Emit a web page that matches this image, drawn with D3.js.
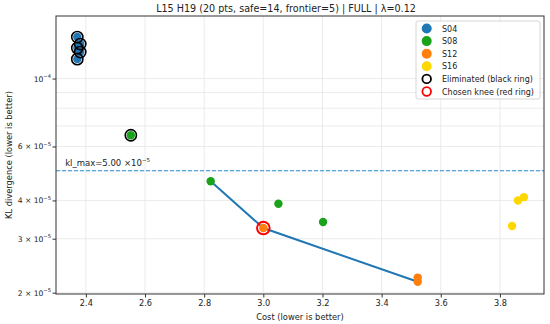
<!DOCTYPE html>
<html>
<head>
<meta charset="utf-8">
<script src="https://cdn.jsdelivr.net/npm/d3@7"></script>
<style>
  body { margin: 0; background: #fff; }
  svg { font-family: "DejaVu Sans", sans-serif; }
</style>
</head>
<body>
<svg id="chart" width="550" height="324"></svg>
<script>
(function() {
  // series names and colours
  var seriesNames = ['S04', 'S08', 'S12', 'S16'];
  var seriesColors = ['#1f77b4', '#1aa31a', '#ff7f0e', '#ffd700'];

  // points: [cost, kl]
  var s04 = [[2.371, 1.366e-4], [2.381, 1.296e-4], [2.371, 1.257e-4], [2.381, 1.220e-4], [2.371, 1.157e-4]];
  var s08 = [[2.552, 6.53e-5], [2.822, 4.62e-5], [3.051, 3.90e-5], [3.202, 3.40e-5]];
  var s12 = [[3.0, 3.25e-5], [3.522, 2.24e-5], [3.522, 2.17e-5]];
  var s16 = [[3.841, 3.30e-5], [3.861, 4.00e-5], [3.881, 4.10e-5]];

  // which points got eliminated (series index, point index)
  var eliminated = [[0, 0], [0, 1], [0, 2], [0, 3], [0, 4], [1, 0]];
  var knee = [3.0, 3.25e-5];
  var frontier = [[2.822, 4.62e-5], [3.0, 3.25e-5], [3.522, 2.17e-5]];
  var klMax = 5e-5;

  var xTicks = [2.4, 2.6, 2.8, 3.0, 3.2, 3.4, 3.6, 3.8];
  var yMajor = [1e-4];
  var yMinor = [2e-5, 3e-5, 4e-5, 5e-5, 6e-5, 7e-5, 8e-5, 9e-5];
  var yMinorLabels = [[2e-5, '2'], [3e-5, '3'], [4e-5, '4'], [6e-5, '6']];

  var allSeries = [s04, s08, s12, s16];

  var left = 56, right = 544, top = 16, bottom = 294;

  var x = d3.scaleLinear().domain([2.299, 3.949]).range([left, right]);
  var y = d3.scaleLog().domain([1.98e-5, 1.6e-4]).range([bottom, top]);

  var svg = d3.select('#chart');

  // grid
  var grid = svg.append('g');
  grid.selectAll('line.gx').data(xTicks).enter().append('line')
    .attr('x1', function(d) { return x(d); }).attr('x2', function(d) { return x(d); })
    .attr('y1', top).attr('y2', bottom)
    .attr('stroke', '#e6e6e6').attr('stroke-width', 0.8);
  grid.selectAll('line.gy').data(yMinor.concat(yMajor)).enter().append('line')
    .attr('x1', left).attr('x2', right)
    .attr('y1', function(d) { return y(d); }).attr('y2', function(d) { return y(d); })
    .attr('stroke', '#e6e6e6').attr('stroke-width', 0.8);

  // kl_max dashed line
  svg.append('line')
    .attr('x1', left).attr('x2', right)
    .attr('y1', y(klMax)).attr('y2', y(klMax))
    .attr('stroke', '#2a93d5').attr('stroke-width', 1.2)
    .attr('stroke-dasharray', '4,2');
  var kt = svg.append('text')
    .attr('x', x(2.33)).attr('y', y(klMax) - 5)
    .attr('font-size', 8.5).attr('fill', '#222');
  kt.append('tspan').text('kl_max=5.00 ×10');
  kt.append('tspan').attr('font-size', 5.5).attr('dy', -4).text('−5');

  // frontier line
  svg.append('path')
    .datum(frontier)
    .attr('d', d3.line().x(function(d) { return x(d[0]); }).y(function(d) { return y(d[1]); }))
    .attr('fill', 'none').attr('stroke', '#1f77b4').attr('stroke-width', 2);

  // points
  allSeries.forEach(function(pts, si) {
    svg.append('g').selectAll('circle').data(pts).enter().append('circle')
      .attr('cx', function(d) { return x(d[0]); })
      .attr('cy', function(d) { return y(d[1]); })
      .attr('r', 4.2)
      .attr('fill', seriesColors[si]);
  });

  // eliminated rings
  svg.append('g').selectAll('circle').data(eliminated).enter().append('circle')
    .attr('cx', function(d) { return x(allSeries[d[0]][d[1]][0]); })
    .attr('cy', function(d) { return y(allSeries[d[0]][d[1]][1]); })
    .attr('r', 5.6)
    .attr('fill', 'none').attr('stroke', '#000').attr('stroke-width', 1.6);

  // knee ring
  svg.append('circle')
    .attr('cx', x(knee[0])).attr('cy', y(knee[1]))
    .attr('r', 6.3)
    .attr('fill', 'none').attr('stroke', '#ff0000').attr('stroke-width', 2);

  // axes
  var xAxis = d3.axisBottom(x).tickValues(xTicks).tickFormat(d3.format('.1f')).tickSize(3.5).tickPadding(3);
  var gx = svg.append('g').attr('transform', 'translate(0,' + bottom + ')').call(xAxis);
  gx.select('.domain').remove();
  gx.selectAll('text').attr('font-size', 8.2).attr('fill', '#222').attr('font-family', '"DejaVu Sans", sans-serif');
  gx.selectAll('line').attr('stroke', '#333');

  var yAxis = d3.axisLeft(y).tickValues(yMinorLabels.map(function(d) { return d[0]; }).concat(yMajor))
    .tickFormat('').tickSize(3.5);
  var gy = svg.append('g').attr('transform', 'translate(' + left + ',0)').call(yAxis);
  gy.select('.domain').remove();
  gy.selectAll('line').attr('stroke', '#333');

  // y tick labels with superscripts
  function supLabel(val, mant) {
    var t = svg.append('text')
      .attr('x', left - 5).attr('y', y(val) + 3)
      .attr('text-anchor', 'end').attr('font-size', 7.6).attr('fill', '#222');
    if (mant) {
      t.append('tspan').text(mant + ' × 10');
      t.append('tspan').attr('font-size', 5.2).attr('dy', -3.5).text('−5');
    }
    else {
      t.append('tspan').text('10');
      t.append('tspan').attr('font-size', 5.2).attr('dy', -3.5).text('−4');
    }
  }
  yMinorLabels.forEach(function(d) { supLabel(d[0], d[1]); });
  supLabel(1e-4, null);

  // frame
  svg.append('rect')
    .attr('x', left).attr('y', top).attr('width', right - left).attr('height', bottom - top)
    .attr('fill', 'none').attr('stroke', '#333').attr('stroke-width', 1);

  // titles
  svg.append('text').attr('x', 286).attr('y', 12).attr('text-anchor', 'middle')
    .attr('font-size', 9.6).attr('fill', '#222')
    .text('L15 H19 (20 pts, safe=14, frontier=5) | FULL | λ=0.12');
  svg.append('text').attr('x', 300).attr('y', 320).attr('text-anchor', 'middle')
    .attr('font-size', 8.3).attr('fill', '#222')
    .text('Cost (lower is better)');
  svg.append('text')
    .attr('transform', 'translate(12,' + ((top + bottom) / 2) + ') rotate(-90)')
    .attr('text-anchor', 'middle').attr('font-size', 8.3).attr('fill', '#222')
    .text('KL divergence (lower is better)');

  // legend
  var lg = svg.append('g').attr('transform', 'translate(416,21)');
  lg.append('rect').attr('width', 124).attr('height', 78).attr('rx', 2)
    .attr('fill', '#fff').attr('fill-opacity', 0.85).attr('stroke', '#ccc').attr('stroke-width', 0.8);
  var entries = seriesNames.map(function(n, i) { return { label: n, fill: seriesColors[i], stroke: null }; });
  entries.push({ label: 'Eliminated (black ring)', fill: 'none', stroke: '#000' });
  entries.push({ label: 'Chosen knee (red ring)', fill: 'none', stroke: '#ff0000' });
  entries.forEach(function(e, i) {
    var ey = 7.5 + i * 12.6;
    lg.append('circle').attr('cx', 10.7).attr('cy', ey)
      .attr('r', e.stroke ? 4.3 : 5)
      .attr('fill', e.fill)
      .attr('stroke', e.stroke || 'none').attr('stroke-width', 1.8);
    lg.append('text').attr('x', 26).attr('y', ey + 3)
      .attr('font-size', 8).attr('fill', '#222').text(e.label);
  });
})();
</script>
</body>
</html>
